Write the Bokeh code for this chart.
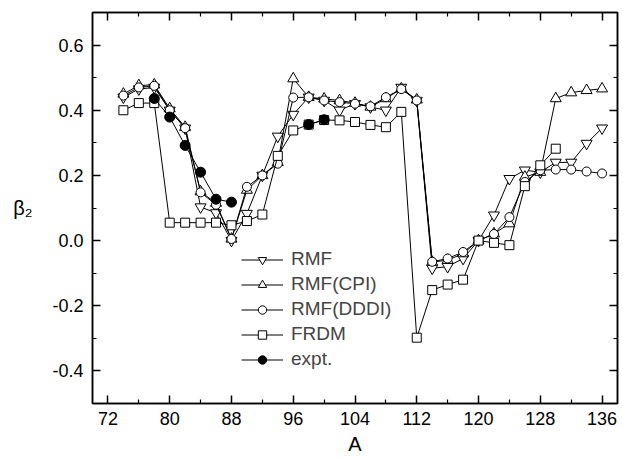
import numpy as np
from bokeh.plotting import figure
from bokeh.models import (LinearAxis, FixedTicker, Range1d, Legend,
                          LegendItem, PrintfTickFormatter)
from bokeh.embed import file_html
from bokeh.resources import INLINE

# ---------------- data ----------------
A_model = [74, 76, 78, 80, 82, 84, 86, 88, 90, 92, 94, 96, 98, 100, 102, 104,
           106, 108, 110, 112, 114, 116, 118, 120, 122, 124, 126, 128, 130,
           132, 134, 136]
rmf = [0.44, 0.465, 0.47, 0.40, 0.345, 0.103, 0.085, 0.0, 0.083, 0.20, 0.32,
       0.387, 0.44, 0.43, 0.40, 0.42, 0.41, 0.40, 0.47, 0.43, -0.085, -0.08,
       -0.055, 0.0, 0.078, 0.19, 0.216, 0.21, 0.24, 0.24, 0.298, 0.345]
rmf_cpi = [0.45, 0.476, 0.478, 0.405, 0.348, 0.15, 0.115, 0.005, 0.155, 0.20,
           0.24, 0.497, 0.44, 0.435, 0.43, 0.422, 0.41, 0.436, 0.466, 0.432,
           -0.066, -0.06, -0.04, 0.0, 0.021, 0.052, 0.195, 0.21, 0.436, 0.454,
           0.461, 0.466]
rmf_dddi = [0.445, 0.47, 0.475, 0.40, 0.345, 0.148, 0.11, 0.005, 0.165, 0.20,
            0.236, 0.439, 0.44, 0.43, 0.425, 0.42, 0.412, 0.44, 0.465, 0.43,
            -0.065, -0.055, -0.035, 0.0, 0.02, 0.072, 0.18, 0.216, 0.218,
            0.218, 0.212, 0.206]
A_frdm = [74, 76, 78, 80, 82, 84, 86, 88, 90, 92, 94, 96, 98, 100, 102, 104,
          106, 108, 110, 112, 114, 116, 118, 120, 122, 124, 126, 128, 130]
frdm = [0.40, 0.422, 0.422, 0.055, 0.055, 0.055, 0.055, 0.047, 0.06, 0.08,
        0.26, 0.338, 0.356, 0.37, 0.369, 0.364, 0.355, 0.348, 0.395, -0.298,
        -0.152, -0.135, -0.12, 0.0, -0.007, -0.014, 0.167, 0.231, 0.282]
A_expt1 = [78, 80, 82, 84, 86, 88]
expt1 = [0.436, 0.379, 0.292, 0.210, 0.127, 0.118]
A_expt2 = [98, 100]
expt2 = [0.356, 0.371]

x_major = [72, 80, 88, 96, 104, 112, 120, 128, 136]
x_minor = [76, 84, 92, 100, 108, 116, 124, 132]
y_major = [-0.4, -0.2, 0.0, 0.2, 0.4, 0.6]
y_minor = [-0.5, -0.3, -0.1, 0.1, 0.3, 0.5]

FONT = "Liberation Sans"

p = figure(frame_width=525, frame_height=391, output_backend="svg",
           toolbar_location=None,
           x_range=Range1d(70, 138), y_range=Range1d(-0.5, 0.7),
           x_axis_type=None, y_axis_type=None)
p.min_border_left = 92
p.min_border_right = 6
p.min_border_top = 12
p.min_border_bottom = 58
p.outline_line_color = "black"
p.outline_line_width = 1.5
p.background_fill_color = "white"
p.border_fill_color = "white"

xt = FixedTicker(ticks=x_major, minor_ticks=x_minor)
yt = FixedTicker(ticks=y_major, minor_ticks=y_minor)


def style_axis(ax, show_labels):
    ax.axis_line_color = "black"
    ax.axis_line_width = 1.5
    ax.major_tick_in = 8
    ax.major_tick_out = 0
    ax.minor_tick_in = 4
    ax.minor_tick_out = 0
    ax.major_tick_line_width = 1.5
    ax.minor_tick_line_width = 1.2
    ax.major_tick_line_color = "black"
    ax.minor_tick_line_color = "black"
    ax.major_label_text_font = FONT
    ax.major_label_text_color = "black"
    if show_labels:
        ax.major_label_text_font_size = "18px"
    else:
        ax.major_label_text_font_size = "0px"
        ax.major_label_standoff = 0


xb = LinearAxis(ticker=xt)
style_axis(xb, True)
xb.major_label_standoff = 8
xb.axis_label = "A"
xb.axis_label_text_font = FONT
xb.axis_label_text_font_size = "20px"
xb.axis_label_text_font_style = "normal"
xb.axis_label_text_color = "black"
xb.axis_label_standoff = 5
p.add_layout(xb, "below")

yl = LinearAxis(ticker=yt, formatter=PrintfTickFormatter(format="%.1f"))
style_axis(yl, True)
yl.major_label_standoff = 9
yl.axis_label = "β₂"
yl.axis_label_orientation = "horizontal"
yl.axis_label_text_font = FONT
yl.axis_label_text_font_size = "20px"
yl.axis_label_text_font_style = "normal"
yl.axis_label_text_color = "black"
yl.axis_label_standoff = 17
p.add_layout(yl, "left")

xa = LinearAxis(ticker=xt)
style_axis(xa, False)
xa.major_label_overrides = {v: "" for v in x_major}
p.add_layout(xa, "above")

yr = LinearAxis(ticker=yt)
style_axis(yr, False)
yr.major_label_overrides = {v: "" for v in y_major}
p.add_layout(yr, "right")

lw = 1.0


def series(xs, ys, marker, size, fill):
    l = p.line(xs, ys, line_color="black", line_width=lw)
    s = p.scatter(xs, ys, marker=marker, size=size, fill_color=fill,
                  line_color="black", line_width=1.0)
    return [l, s]


r1 = series(A_model, rmf, "inverted_triangle", 11, "white")
r2 = series(A_model, rmf_cpi, "triangle", 11, "white")
r3 = series(A_model, rmf_dddi, "circle", 9, "white")
r4 = series(A_frdm, frdm, "square", 9, "white")
r5a = series(A_expt1, expt1, "circle", 10, "black")
r5b = series(A_expt2, expt2, "circle", 10, "black")

legend = Legend(items=[
    LegendItem(label="RMF", renderers=r1),
    LegendItem(label="RMF(CPI)", renderers=r2),
    LegendItem(label="RMF(DDDI)", renderers=r3),
    LegendItem(label="FRDM", renderers=r4),
    LegendItem(label="expt.", renderers=r5a),
], location=(149, 33))
legend.border_line_color = None
legend.background_fill_alpha = 0
legend.padding = 0
legend.margin = 0
legend.spacing = 3
legend.glyph_width = 42
legend.glyph_height = 21
legend.label_standoff = 8
legend.label_text_font = FONT
legend.label_text_font_size = "19px"
legend.label_height = 21
p.add_layout(legend, "center")

open("out.html", "w").write(file_html(p, INLINE))
